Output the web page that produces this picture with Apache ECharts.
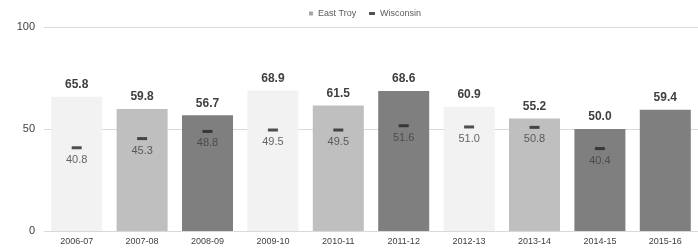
<!DOCTYPE html>
<html>
<head>
<meta charset="utf-8">
<script src="https://cdn.jsdelivr.net/npm/echarts@6/dist/echarts.min.js"></script>
<style>
  html, body { margin: 0; padding: 0; background: #fff; }
  #chart { width: 698px; height: 249px; }
</style>
</head>
<body>
<div id="chart"></div>
<script>
// data
var years = ['2006-07', '2007-08', '2008-09', '2009-10', '2010-11', '2011-12', '2012-13', '2013-14', '2014-15', '2015-16'];
var eastTroy = [65.8, 59.8, 56.7, 68.9, 61.5, 68.6, 60.9, 55.2, 50.0, 59.4];
var wisconsin = [40.8, 45.3, 48.8, 49.5, 49.5, 51.6, 51.0, 50.8, 40.4, null];

// bar shades, one per year
var shades = ['#f2f2f2', '#bfbfbf', '#7f7f7f', '#f2f2f2', '#bfbfbf', '#7f7f7f', '#f2f2f2', '#bfbfbf', '#7f7f7f', '#7f7f7f'];

var chart = echarts.init(document.getElementById('chart'));

var barData = eastTroy.map(function (v, i) {
  return { value: v, itemStyle: { color: shades[i] } };
});
var wiData = wisconsin.map(function (v) { return v == null ? '-' : v; });

var legendText = { fontSize: 9, color: '#595959' };

chart.setOption({
  animation: false,
  textStyle: { fontFamily: 'Liberation Sans, Arial, sans-serif' },
  legend: [
    {
      top: 4, left: 304, itemWidth: 4, itemHeight: 4,
      textStyle: legendText,
      data: [{ name: 'East Troy', icon: 'rect', itemStyle: { color: '#a6a6a6' } }]
    },
    {
      top: 4, left: 364, itemWidth: 6, itemHeight: 3,
      textStyle: legendText,
      data: [{ name: 'Wisconsin', icon: 'rect', itemStyle: { color: '#262626' } }]
    }
  ],
  grid: { left: 44, right: -13, top: 27, bottom: 18 },
  xAxis: {
    type: 'category',
    data: years,
    axisLine: { lineStyle: { color: '#d9d9d9' } },
    axisTick: { show: false },
    axisLabel: { color: '#404040', fontSize: 9, margin: 6, interval: 0 }
  },
  yAxis: {
    type: 'value',
    min: 0,
    max: 100,
    interval: 50,
    axisLine: { show: false },
    axisTick: { show: false },
    axisLabel: { color: '#404040', fontSize: 11, margin: 9 },
    splitLine: { lineStyle: { color: '#d9d9d9' } }
  },
  series: [
    {
      name: 'East Troy',
      type: 'bar',
      barWidth: '78%',
      data: barData,
      label: {
        show: true,
        position: 'top',
        distance: 6,
        fontSize: 12,
        fontWeight: 'bold',
        color: '#404040',
        formatter: function (p) { return p.value.toFixed(1); }
      }
    },
    {
      name: 'Wisconsin',
      type: 'scatter',
      symbol: 'rect',
      symbolSize: [10, 3],
      itemStyle: { color: '#262626' },
      data: wiData,
      z: 5,
      label: {
        show: true,
        position: 'bottom',
        distance: 5,
        fontSize: 11,
        color: '#404040',
        formatter: function (p) { return Number(p.value).toFixed(1); }
      }
    }
  ]
});
</script>
</body>
</html>
